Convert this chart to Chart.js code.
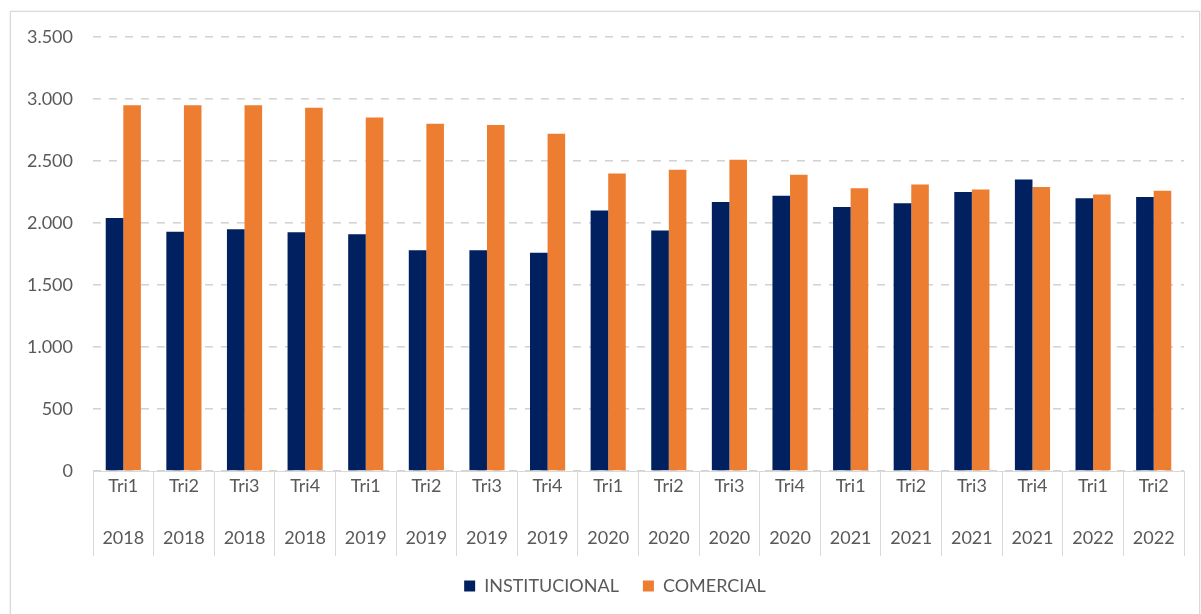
<!DOCTYPE html>
<html>
<head>
<meta charset="utf-8">
<script src="https://cdn.jsdelivr.net/npm/chart.js@4.4.0/dist/chart.umd.min.js"></script>
<style>
  html, body { margin: 0; padding: 0; background: #ffffff; width: 1201px; height: 614px; overflow: hidden; }
  #frame { position: absolute; left: 10px; top: 11px; width: 1188px; height: 620px; border: 1px solid #d9d9d9; box-shadow: 0 0 2px rgba(0,0,0,0.12); }
  #wrap { position: absolute; left: 0; top: 0; width: 1201px; height: 614px; }
</style>
</head>
<body>
<div id="frame"></div>
<div id="wrap"><canvas id="c" width="1201" height="614"></canvas></div>
<script>
const quarters = ["Tri1","Tri2","Tri3","Tri4","Tri1","Tri2","Tri3","Tri4","Tri1","Tri2","Tri3","Tri4","Tri1","Tri2","Tri3","Tri4","Tri1","Tri2"];
const years = ["2018","2018","2018","2018","2019","2019","2019","2019","2020","2020","2020","2020","2021","2021","2021","2021","2022","2022"];
const institucional = [2040,1930,1950,1925,1910,1780,1780,1760,2100,1940,2170,2220,2130,2160,2250,2350,2200,2210];
const comercial = [2950,2950,2950,2930,2850,2800,2790,2720,2400,2430,2510,2390,2280,2310,2270,2290,2230,2260];
const yTicks = [0,500,1000,1500,2000,2500,3000,3500];

const labels = quarters.map((q, i) => [q, years[i]]);
const fmt = v => String(v).replace(/\B(?=(\d{3})+(?!\d))/g, ".");

const legendShift = {
  id: "legendShift",
  afterLayout(chart) { if (chart.legend) { chart.legend.left += 46; } }
};

new Chart(document.getElementById("c"), {
  type: "bar",
  data: {
    labels: labels,
    datasets: [
      { label: "INSTITUCIONAL", data: institucional, backgroundColor: "#002060", borderWidth: 0 },
      { label: "COMERCIAL", data: comercial, backgroundColor: "#ED7D31", borderWidth: 0 }
    ]
  },
  plugins: [legendShift],
  options: {
    responsive: false,
    animation: false,
    devicePixelRatio: 1,
    layout: { padding: { left: 0, right: 17, top: 37, bottom: 9 } },
    datasets: { bar: { barPercentage: 1.0, categoryPercentage: 0.58 } },
    scales: {
      x: {
        offset: true,
        grid: { display: true, drawOnChartArea: false, drawTicks: true, tickLength: 85, color: "#d9d9d9", offset: true },
        border: { display: true, color: "#d9d9d9" },
        ticks: { color: "#595959", font: { family: "Lato", size: 18, lineHeight: 2.85 }, padding: -95, maxRotation: 0, autoSkip: false },
        afterFit: s => { s.height = 82; }
      },
      y: {
        min: 0, max: 3500,
        afterBuildTicks: s => { s.ticks = yTicks.map(v => ({ value: v })); },
        grid: { color: "#d4d4d4", lineWidth: 1.6, drawTicks: false },
        border: { display: false, dash: [8, 8] },
        ticks: { color: "#595959", font: { family: "Lato", size: 18 }, padding: 20, callback: v => fmt(v) },
        afterFit: s => { s.width = 93; }
      }
    },
    plugins: {
      legend: {
        position: "bottom",
        labels: { color: "#595959", font: { family: "Lato", size: 18 }, boxWidth: 11, boxHeight: 11, padding: 24 }
      },
      tooltip: { enabled: false }
    }
  }
});
</script>
</body>
</html>
